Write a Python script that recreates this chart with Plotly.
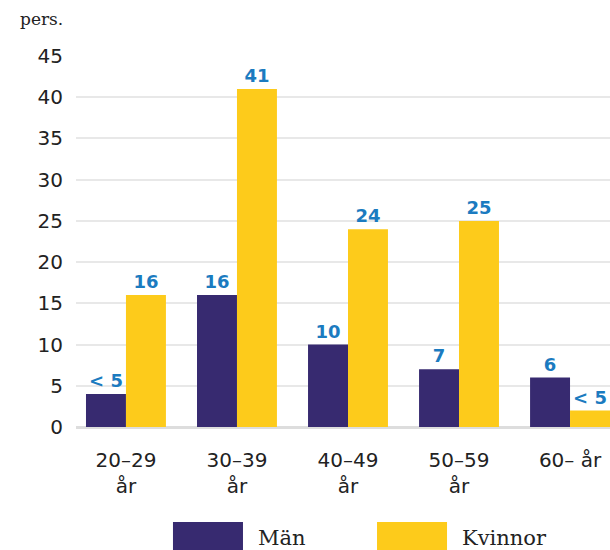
import plotly.graph_objects as go

categories = ["20–29<br>år", "30–39<br>år", "40–49<br>år", "50–59<br>år", "60– år"]
series_names = ["Män", "Kvinnor"]
man_values = [4, 16, 10, 7, 6]
kvinnor_values = [16, 41, 24, 25, 2]
man_labels = ["< 5", "16", "10", "7", "6"]
kvinnor_labels = ["16", "41", "24", "25", "< 5"]
y_ticks = [0, 5, 10, 15, 20, 25, 30, 35, 40, 45]
colors = ["#372a70", "#fdcb1b"]
label_color = "#1b7bc0"

fig = go.Figure()
for name, vals, labs, col in [
    (series_names[0], man_values, man_labels, colors[0]),
    (series_names[1], kvinnor_values, kvinnor_labels, colors[1]),
]:
    fig.add_trace(go.Bar(
        x=categories, y=vals, name=name, marker_color=col, marker_line_width=0,
        text=labs, textposition="outside", cliponaxis=False,
        textfont=dict(family="DejaVu Sans", size=18, color=label_color, weight=600),
        showlegend=False,
    ))

# legend drawn as swatches + text
legend_x = [0.1816, 0.5637]
for i, (name, col) in enumerate(zip(series_names, colors)):
    fig.add_shape(type="rect", xref="paper", yref="paper",
                  x0=legend_x[i], x1=legend_x[i] + 0.1311, y0=-0.34, y1=-0.256,
                  fillcolor=col, line_width=0, layer="above")
    fig.add_annotation(xref="paper", yref="paper", x=legend_x[i] + 0.156, y=-0.299,
                       text=name, showarrow=False, xanchor="left", yanchor="middle",
                       font=dict(family="DejaVu Serif", size=21, color="#222222"))

fig.add_annotation(xref="paper", yref="paper", x=-0.02, y=1.068, text="pers.",
                   showarrow=False, xanchor="right", yanchor="bottom",
                   font=dict(family="DejaVu Serif", size=17, color="#222222"))

fig.update_layout(
    width=610, height=550,
    margin=dict(l=76, r=0, t=56, b=123),
    plot_bgcolor="white", paper_bgcolor="white",
    barmode="group", bargap=0.28, bargroupgap=0,
    xaxis=dict(range=[-0.45, 4.36], tickfont=dict(family="DejaVu Sans", size=20, color="#222222"),
               showgrid=False, ticks="", showline=False, ticklabelstandoff=19),
    yaxis=dict(range=[0, 45], tickvals=y_ticks, ticktext=[str(v) for v in y_ticks],
               tickfont=dict(family="DejaVu Sans", size=20, color="#222222"),
               showgrid=True, gridcolor="#e8e8e8", gridwidth=2,
               zeroline=True, zerolinecolor="#dddddd", zerolinewidth=3, ticklabelstandoff=12),
)

fig.write_html("out.html", config={"displayModeBar": False},
               post_script="document.body.style.margin='0';document.body.style.overflow='hidden';")
